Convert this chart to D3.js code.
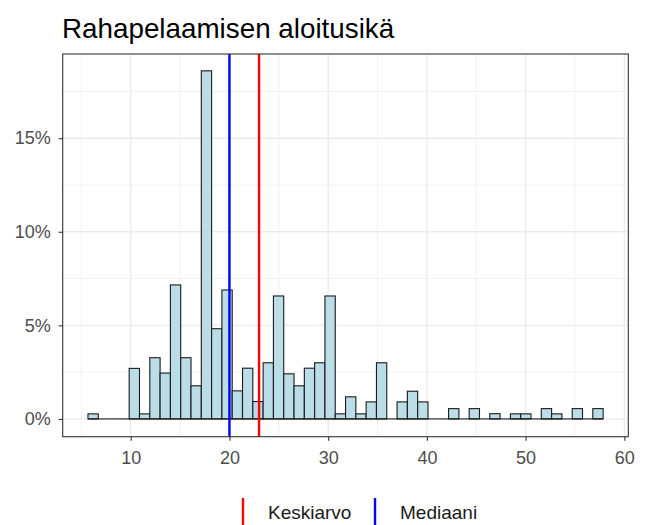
<!DOCTYPE html>
<html>
<head>
<meta charset="utf-8">
<script src="https://cdn.jsdelivr.net/npm/d3@7"></script>
<style>
  body { margin: 0; background: #fff; }
  text { font-family: "Liberation Sans", Arial, sans-serif; }
</style>
</head>
<body>
<svg id="chart"></svg>
<script>
// histogram bins (50 bins), share of respondents in %
const binStart = 5.67;
const binWidth = 1.0436;
const percents = [0.27, 0, 0, 0, 2.7, 0.27, 3.27, 2.45, 7.16, 3.27,
                  1.77, 18.6, 4.82, 6.89, 1.5, 2.71, 0.93, 3.0, 6.57, 2.41,
                  1.77, 2.71, 3.0, 6.57, 0.27, 1.18, 0.27, 0.91, 3.0, 0,
                  0.91, 1.48, 0.91, 0, 0, 0.55, 0, 0.55, 0, 0.28,
                  0, 0.27, 0.27, 0, 0.55, 0.27, 0, 0.55, 0, 0.55];
const meanAge = 23.0;
const medianAge = 20;
const xTicks = [10, 20, 30, 40, 50, 60];
const yTicks = [0, 5, 10, 15];
const legendLabels = ["Keskiarvo", "Mediaani"];
const legendColors = ["#FF0000", "#0000FF"];

class Histogram {
  constructor(config, data) {
    this.config = config;
    this.data = data;
    this.init();
  }

  init() {
    let self = this;
    const c = self.config;

    self.svg = d3.select(c.parent)
      .attr('width', c.width)
      .attr('height', c.height);

    self.xscale = d3.scaleLinear().domain([3.11, 60.4]).range([c.left, c.right]);
    self.yscale = d3.scaleLinear().domain([-0.95, 19.5]).range([c.bottom, c.top]);

    const binX0 = (d, i) => self.xscale(binStart + i * binWidth);
    const binX1 = (d, i) => self.xscale(binStart + (i + 1) * binWidth);

    // grid
    const grid = self.svg.append('g');
    const xMinor = [5, 15, 25, 35, 45, 55];
    const yMinor = [2.5, 7.5, 12.5, 17.5];
    grid.selectAll('.xminor').data(xMinor).join('line')
      .attr('x1', d => self.xscale(d)).attr('x2', d => self.xscale(d))
      .attr('y1', c.top).attr('y2', c.bottom)
      .attr('stroke', '#EBEBEB').attr('stroke-width', 0.7);
    grid.selectAll('.yminor').data(yMinor).join('line')
      .attr('y1', d => self.yscale(d)).attr('y2', d => self.yscale(d))
      .attr('x1', c.left).attr('x2', c.right)
      .attr('stroke', '#EBEBEB').attr('stroke-width', 0.7);
    grid.selectAll('.xmajor').data(xTicks).join('line')
      .attr('x1', d => self.xscale(d)).attr('x2', d => self.xscale(d))
      .attr('y1', c.top).attr('y2', c.bottom)
      .attr('stroke', '#EBEBEB').attr('stroke-width', 1.4);
    grid.selectAll('.ymajor').data(yTicks).join('line')
      .attr('y1', d => self.yscale(d)).attr('y2', d => self.yscale(d))
      .attr('x1', c.left).attr('x2', c.right)
      .attr('stroke', '#EBEBEB').attr('stroke-width', 1.4);

    // bars
    const bars = self.svg.append('g');
    bars.selectAll('rect')
      .data(self.data)
      .join('rect')
      .attr('x', binX0)
      .attr('width', (d, i) => binX1(d, i) - binX0(d, i))
      .attr('y', d => self.yscale(d))
      .attr('height', d => self.yscale(0) - self.yscale(d))
      .attr('fill', '#BADDE7')
      .attr('stroke', '#1a1a1a')
      .attr('stroke-width', 1.1);

    // empty bins still get their outline along the baseline
    bars.selectAll('line')
      .data(self.data)
      .join('line')
      .attr('x1', binX0)
      .attr('x2', binX1)
      .attr('y1', self.yscale(0))
      .attr('y2', self.yscale(0))
      .attr('stroke', '#1a1a1a')
      .attr('stroke-width', 1.1);

    // mean / median lines
    const vl = [meanAge, medianAge];
    self.svg.append('g').selectAll('line')
      .data(vl)
      .join('line')
      .attr('x1', d => self.xscale(d)).attr('x2', d => self.xscale(d))
      .attr('y1', c.top).attr('y2', c.bottom)
      .attr('stroke', (d, i) => legendColors[i])
      .attr('stroke-width', 2.4);

    // panel border
    self.svg.append('rect')
      .attr('x', c.left).attr('y', c.top)
      .attr('width', c.right - c.left).attr('height', c.bottom - c.top)
      .attr('fill', 'none').attr('stroke', '#333333').attr('stroke-width', 1.1);

    // axes
    const xaxis = d3.axisBottom(self.xscale).tickValues(xTicks).tickSize(4).tickSizeOuter(0);
    const yaxis = d3.axisLeft(self.yscale).tickValues(yTicks).tickSize(4).tickPadding(8)
      .tickFormat(d => d + '%').tickSizeOuter(0);

    const xg = self.svg.append('g')
      .attr('transform', `translate(0, ${c.bottom})`)
      .call(xaxis);
    const yg = self.svg.append('g')
      .attr('transform', `translate(${c.left}, 0)`)
      .call(yaxis);

    [xg, yg].forEach(g => {
      g.select('.domain').remove();
      g.selectAll('.tick line').attr('stroke', '#333333').attr('stroke-width', 1.1);
      g.selectAll('.tick text')
        .attr('fill', '#4D4D4D')
        .style('font-size', '18px')
        .style('font-family', '"Liberation Sans", Arial, sans-serif');
    });
    xg.selectAll('.tick text').attr('dy', null).attr('y', 27);

    // title
    self.svg.append('text')
      .attr('x', 62)
      .attr('y', 38)
      .style('font-size', '27.8px')
      .attr('fill', '#000')
      .text(c.title);

    // legend
    const legendX = [243, 375];
    const leg = self.svg.append('g');
    leg.selectAll('line')
      .data(legendLabels)
      .join('line')
      .attr('x1', (d, i) => legendX[i]).attr('x2', (d, i) => legendX[i])
      .attr('y1', 498).attr('y2', 530)
      .attr('stroke', (d, i) => legendColors[i])
      .attr('stroke-width', 2.4);
    leg.selectAll('text')
      .data(legendLabels)
      .join('text')
      .attr('x', (d, i) => legendX[i] + 25)
      .attr('y', 519)
      .style('font-size', '19px')
      .attr('fill', '#1a1a1a')
      .text(d => d);
  }
}

new Histogram({
  parent: '#chart',
  width: 646,
  height: 525,
  left: 62.7,
  right: 628.3,
  top: 54,
  bottom: 436.7,
  title: 'Rahapelaamisen aloitusikä'
}, percents);
</script>
</body>
</html>
